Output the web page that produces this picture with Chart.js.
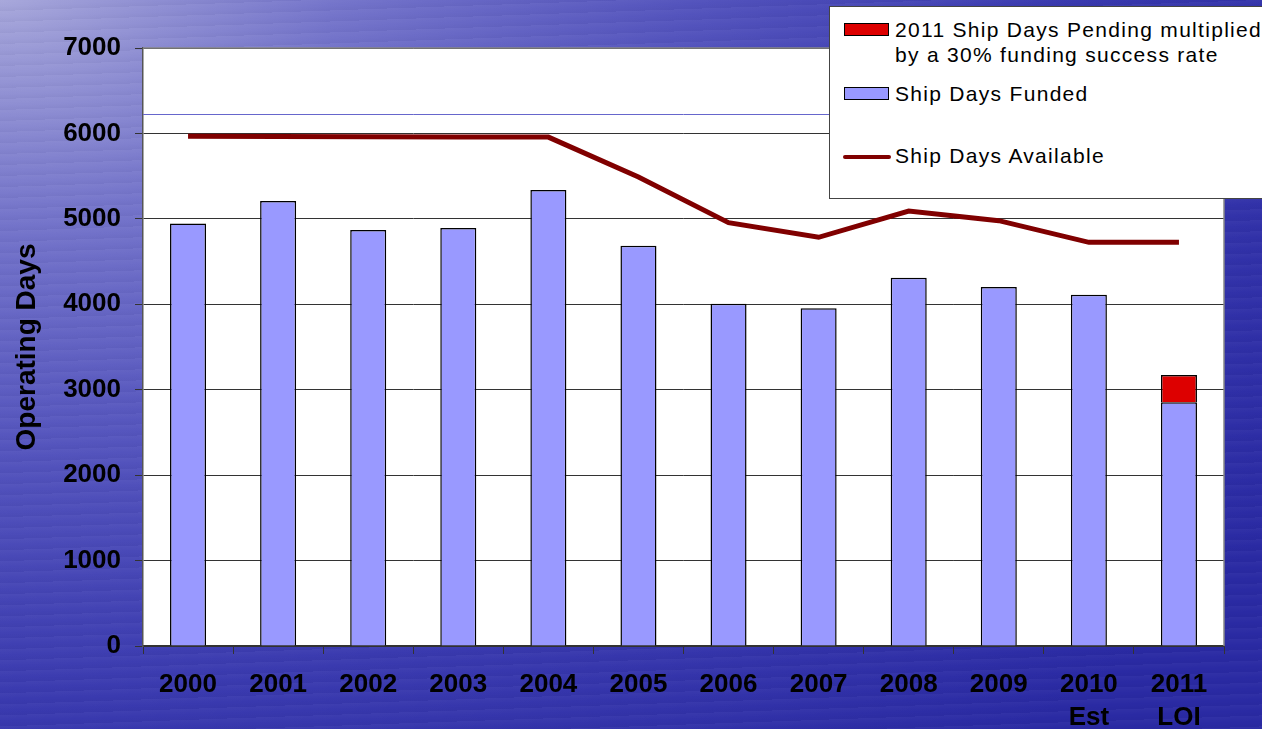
<!DOCTYPE html>
<html>
<head>
<meta charset="utf-8">
<script src="https://cdn.jsdelivr.net/npm/chart.js@4.4.1/dist/chart.umd.min.js"></script>
<style>
  html, body { margin: 0; padding: 0; }
  body {
    width: 1262px; height: 729px; overflow: hidden; position: relative;
    background:
      repeating-linear-gradient(178deg, rgba(255,255,255,0.03) 0px, rgba(255,255,255,0.0) 6px, rgba(0,0,40,0.03) 11px),
      radial-gradient(ellipse 1500px 1000px at 0% 0%, #a6a6da 0%, #7474ca 22%, #5454bd 45%, #3a3aaf 70%, #2a2aa3 100%);
    font-family: "Liberation Sans", Arial, sans-serif;
  }
  #wrap { position: absolute; left: 0; top: 0; width: 1262px; height: 729px; }
  #legend {
    position: absolute; left: 829px; top: 6px; width: 440px; height: 193px;
    background: #fff; border: 1px solid #444; box-sizing: border-box;
    font-size: 21px; letter-spacing: 1.3px; color: #000; white-space: nowrap;
  }
  .item { position: absolute; left: 14px; }
  .swatch { position: absolute; left: 0; width: 43px; height: 11px; border: 1px solid #000; }
  .lbl { position: absolute; left: 51px; line-height: 25px; }
  .lineswatch { position: absolute; left: 0; width: 48px; height: 4px; background: #800000; border-radius: 2px; }
</style>
</head>
<body>
<div id="wrap"><canvas id="chart" width="1262" height="729"></canvas></div>
<div id="legend">
  <div class="item" style="top:15px;">
    <div class="swatch" style="background:#dd0000; top:1px;"></div>
    <div class="lbl" style="top:-5px;">2011 Ship Days Pending multiplied<br>by a 30% funding success rate</div>
  </div>
  <div class="item" style="top:80px;">
    <div class="swatch" style="background:#9999ff; top:0px;"></div>
    <div class="lbl" style="top:-6px;">Ship Days Funded</div>
  </div>
  <div class="item" style="top:148px;">
    <div class="lineswatch" style="top:0px; left:-1px;"></div>
    <div class="lbl" style="top:-12px;">Ship Days Available</div>
  </div>
</div>
<script>
// chart data
const years = ['2000', '2001', '2002', '2003', '2004', '2005', '2006', '2007', '2008', '2009', ['2010', 'Est'], ['2011', 'LOI']];
const daysFunded = [4945, 5210, 4870, 4893, 5338, 4686, 4007, 3953, 4311, 4202, 4112, 2853];
const daysPending = [null, null, null, null, null, null, null, null, null, null, null, 318];
const daysAvailable = [5968, 5965, 5960, 5957, 5957, 5490, 4955, 4784, 5092, 4979, 4725, 4725];
const yTicks = [0, 1000, 2000, 3000, 4000, 5000, 6000, 7000];
const refLineValue = 6225; // thin blue rule across the plot

const tickFont = { family: "'Liberation Sans', Arial, sans-serif", size: 26, weight: 'bold', lineHeight: 1.25 };

// white plot area + frame + thin blue rule
const plotBox = {
    id: 'plotBox',
    beforeDraw(chart) {
        const { ctx, chartArea: a } = chart;
        ctx.save();
        ctx.fillStyle = '#ffffff';
        ctx.fillRect(a.left, a.top, a.right - a.left, a.bottom - a.top);
        ctx.restore();
    },
    beforeDatasetsDraw(chart) {
        const { ctx, chartArea: a, scales } = chart;
        const y = Math.round(scales.y.getPixelForValue(refLineValue)) + 0.5;
        ctx.save();
        ctx.strokeStyle = '#6666cc';
        ctx.lineWidth = 1;
        ctx.beginPath();
        ctx.moveTo(a.left, y);
        ctx.lineTo(a.right, y);
        ctx.stroke();
        ctx.strokeStyle = '#888888';
        ctx.lineWidth = 1.5;
        ctx.beginPath();
        ctx.moveTo(a.left, a.top);
        ctx.lineTo(a.right, a.top);
        ctx.lineTo(a.right, a.bottom);
        ctx.stroke();
        ctx.restore();
    }
};

new Chart(document.getElementById('chart'), {
    data: {
        labels: years,
        datasets: [
            {
                type: 'line',
                label: 'Ship Days Available',
                data: daysAvailable,
                borderColor: '#800000',
                backgroundColor: '#800000',
                borderWidth: 5,
                pointRadius: 0,
                tension: 0,
                stack: 'avail',
                order: 0
            },
            {
                type: 'bar',
                label: 'Ship Days Funded',
                data: daysFunded,
                backgroundColor: '#9999ff',
                borderColor: '#000000',
                borderWidth: 1.5,
                barPercentage: 0.4,
                categoryPercentage: 1,
                stack: 'days',
                order: 1
            },
            {
                type: 'bar',
                label: '2011 Ship Days Pending multiplied by a 30% funding success rate',
                data: daysPending,
                backgroundColor: '#dd0000',
                borderColor: '#000000',
                borderWidth: 1.5,
                barPercentage: 0.4,
                categoryPercentage: 1,
                stack: 'days',
                order: 1
            }
        ]
    },
    options: {
        responsive: false,
        animation: false,
        layout: { padding: { left: 0, right: 38, top: 48, bottom: 0 } },
        plugins: {
            legend: { display: false },
            tooltip: { enabled: false }
        },
        scales: {
            x: {
                stacked: true,
                offset: true,
                grid: {
                    offset: true,
                    drawOnChartArea: false,
                    drawTicks: true,
                    tickLength: 8,
                    color: '#333333'
                },
                border: { color: '#333333', width: 1.5 },
                ticks: {
                    color: '#000000',
                    font: tickFont,
                    padding: 15,
                    maxRotation: 0,
                    autoSkip: false
                },
                afterFit(scale) { scale.height = 83; }
            },
            y: {
                stacked: true,
                min: 0,
                max: 7000,
                afterBuildTicks(scale) { scale.ticks = yTicks.map(v => ({ value: v })); },
                grid: {
                    color: '#333333',
                    lineWidth: 1,
                    tickLength: 8
                },
                border: { color: '#555555', width: 1.5 },
                ticks: {
                    color: '#000000',
                    font: tickFont,
                    padding: 14,
                    callback: (v) => String(v)
                },
                title: {
                    display: true,
                    text: 'Operating Days',
                    color: '#000000',
                    font: { family: "'Liberation Sans', Arial, sans-serif", size: 28, weight: 'bold', lineHeight: 1.2 },
                    padding: { top: 10, bottom: 0 }
                },
                afterFit(scale) { scale.width = 143; }
            }
        }
    },
    plugins: [plotBox]
});
</script>
</body>
</html>
